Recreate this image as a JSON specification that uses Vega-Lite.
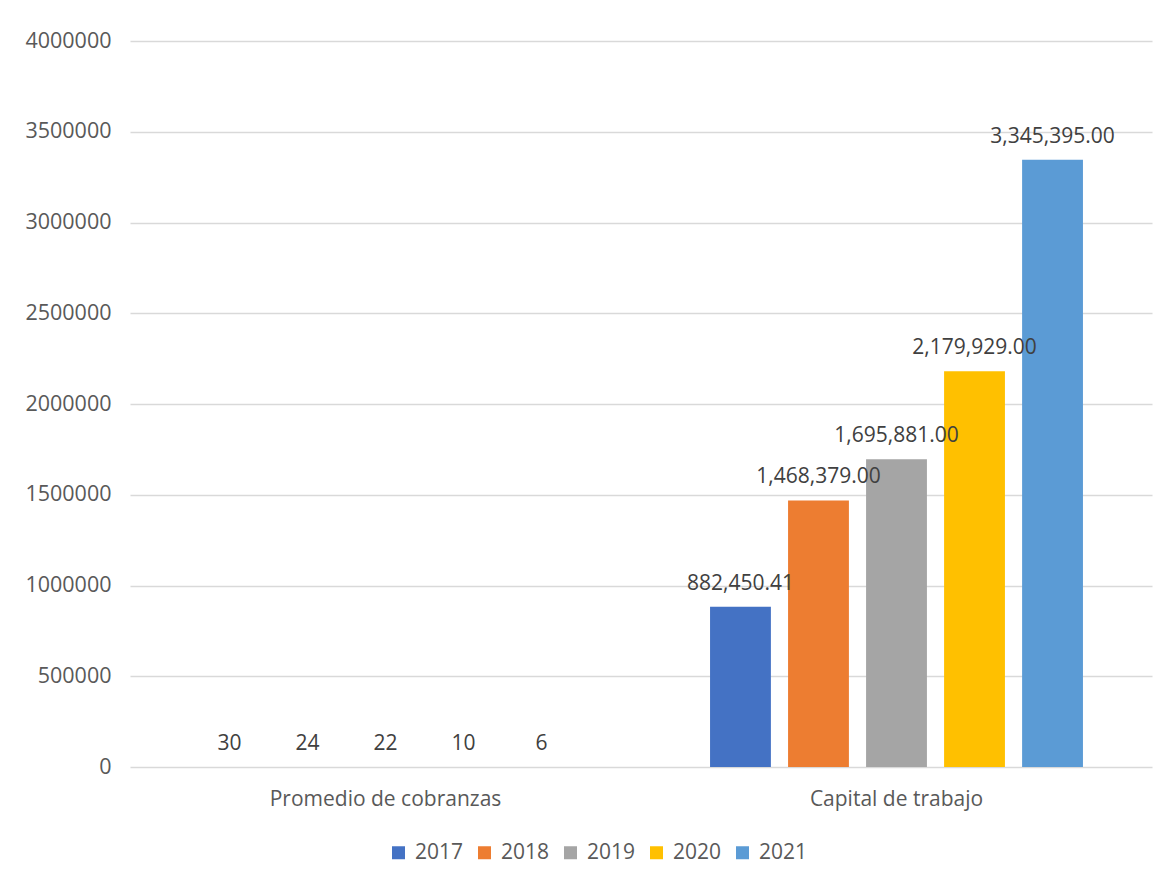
{
  "$schema": "https://vega.github.io/schema/vega-lite/v6.json",
  "autosize": {"type": "none"},
  "width": 1022,
  "height": 726,
  "padding": {"left": 130, "top": 41, "right": 18, "bottom": 116},
  "background": "white",
  "config": {
    "font": "Open Sans",
    "view": {"stroke": null}
  },
  "data": {
    "values": [
      {"indicador": "Promedio de cobranzas", "anio": "2017", "valor": 30, "etiqueta": "30"},
      {"indicador": "Promedio de cobranzas", "anio": "2018", "valor": 24, "etiqueta": "24"},
      {"indicador": "Promedio de cobranzas", "anio": "2019", "valor": 22, "etiqueta": "22"},
      {"indicador": "Promedio de cobranzas", "anio": "2020", "valor": 10, "etiqueta": "10"},
      {"indicador": "Promedio de cobranzas", "anio": "2021", "valor": 6, "etiqueta": "6"},
      {"indicador": "Capital de trabajo", "anio": "2017", "valor": 882450.41, "etiqueta": "882,450.41"},
      {"indicador": "Capital de trabajo", "anio": "2018", "valor": 1468379, "etiqueta": "1,468,379.00"},
      {"indicador": "Capital de trabajo", "anio": "2019", "valor": 1695881, "etiqueta": "1,695,881.00"},
      {"indicador": "Capital de trabajo", "anio": "2020", "valor": 2179929, "etiqueta": "2,179,929.00"},
      {"indicador": "Capital de trabajo", "anio": "2021", "valor": 3345395, "etiqueta": "3,345,395.00"}
    ]
  },
  "encoding": {
    "x": {
      "field": "indicador",
      "type": "nominal",
      "sort": ["Promedio de cobranzas", "Capital de trabajo"],
      "scale": {"paddingInner": 0, "paddingOuter": 0},
      "axis": {
        "title": null,
        "labelAngle": 0,
        "domain": false,
        "ticks": false,
        "labelPadding": 21,
        "labelFontSize": 21,
        "labelLimit": 0,
        "labelColor": "#595959"
      }
    },
    "xOffset": {
      "field": "anio",
      "type": "nominal",
      "sort": ["2017", "2018", "2019", "2020", "2021"],
      "scale": {"paddingInner": 0.22, "paddingOuter": 0.885}
    },
    "y": {
      "field": "valor",
      "type": "quantitative",
      "scale": {"domain": [0, 4000000], "nice": false},
      "axis": {
        "title": null,
        "values": [0, 500000, 1000000, 1500000, 2000000, 2500000, 3000000, 3500000, 4000000],
        "format": "d",
        "domain": false,
        "ticks": false,
        "labelPadding": 19,
        "labelFontSize": 21.5,
        "labelColor": "#595959",
        "gridColor": "#d9d9d9",
        "gridWidth": 1.3
      }
    }
  },
  "layer": [
    {
      "mark": {"type": "bar"},
      "encoding": {
        "color": {
          "field": "anio",
          "type": "nominal",
          "sort": ["2017", "2018", "2019", "2020", "2021"],
          "scale": {
            "domain": ["2017", "2018", "2019", "2020", "2021"],
            "range": ["#4472C4", "#ED7D31", "#A5A5A5", "#FFC000", "#5B9BD5"]
          },
          "legend": {
            "title": null,
            "orient": "none",
            "direction": "horizontal",
            "legendX": 258,
            "legendY": 801,
            "symbolType": "square",
            "symbolSize": 169,
            "symbolStrokeWidth": 0,
            "labelFontSize": 21,
            "labelColor": "#595959",
            "labelOffset": 6,
            "columnPadding": 10
          }
        }
      }
    },
    {
      "mark": {"type": "text", "baseline": "alphabetic", "dy": -17, "fontSize": 21, "color": "#404040"},
      "encoding": {
        "text": {"field": "etiqueta", "type": "nominal"}
      }
    }
  ]
}
